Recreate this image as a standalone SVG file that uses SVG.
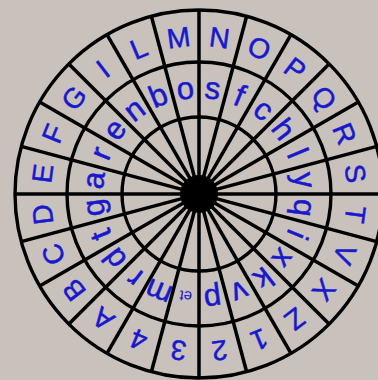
<svg xmlns="http://www.w3.org/2000/svg" width="378" height="380" viewBox="0 0 378 380">
<style>
.bg{fill:#c9c1bc}
.ring{fill:none;stroke:#000;stroke-width:3.4}
.spoke{stroke:#000;stroke-width:3.5}
.cap{font-family:"Liberation Sans",Arial,sans-serif;font-size:28px;fill:#1818cc;text-anchor:middle;stroke:#1818cc;stroke-width:0.5}
.low{font-family:"Liberation Sans",Arial,sans-serif;font-size:31px;fill:#1818cc;text-anchor:middle;stroke:#1818cc;stroke-width:0.5}
.sm{font-family:"Liberation Sans",Arial,sans-serif;font-size:15px;fill:#1818cc;text-anchor:middle}
</style>
<rect class="bg" x="0" y="0" width="378" height="380"/>
<g id="disk" transform="translate(199,194)">
<g id="connectors">
<line class="spoke" x1="0" y1="-184" x2="0" y2="184"/>
<line class="spoke" x1="0" y1="-184" x2="0" y2="184" transform="rotate(15)"/>
<line class="spoke" x1="0" y1="-184" x2="0" y2="184" transform="rotate(30)"/>
<line class="spoke" x1="0" y1="-184" x2="0" y2="184" transform="rotate(45)"/>
<line class="spoke" x1="0" y1="-184" x2="0" y2="184" transform="rotate(60)"/>
<line class="spoke" x1="0" y1="-184" x2="0" y2="184" transform="rotate(75)"/>
<line class="spoke" x1="0" y1="-184" x2="0" y2="184" transform="rotate(90)"/>
<line class="spoke" x1="0" y1="-184" x2="0" y2="184" transform="rotate(105)"/>
<line class="spoke" x1="0" y1="-184" x2="0" y2="184" transform="rotate(120)"/>
<line class="spoke" x1="0" y1="-184" x2="0" y2="184" transform="rotate(135)"/>
<line class="spoke" x1="0" y1="-184" x2="0" y2="184" transform="rotate(150)"/>
<line class="spoke" x1="0" y1="-184" x2="0" y2="184" transform="rotate(165)"/>
</g>
<circle class="ring" r="184"/>
<circle class="ring" r="132"/>
<circle class="ring" r="77"/>
<circle r="19" fill="#000"/>
<g id="outer">
<text class="cap" transform="rotate(7.5)" y="-148">N</text>
<text class="cap" transform="rotate(22.5)" y="-148">O</text>
<text class="cap" transform="rotate(37.5)" y="-148">P</text>
<text class="cap" transform="rotate(52.5)" y="-148">Q</text>
<text class="cap" transform="rotate(67.5)" y="-148">R</text>
<text class="cap" transform="rotate(82.5)" y="-148">S</text>
<text class="cap" transform="rotate(97.5)" y="-148">T</text>
<text class="cap" transform="rotate(112.5)" y="-148">V</text>
<text class="cap" transform="rotate(127.5)" y="-148">X</text>
<text class="cap" transform="rotate(142.5)" y="-148">Z</text>
<text class="cap" transform="rotate(157.5)" y="-148">1</text>
<text class="cap" transform="rotate(172.5)" y="-148">2</text>
<text class="cap" transform="rotate(187.5)" y="-148">3</text>
<text class="cap" transform="rotate(202.5)" y="-148">4</text>
<text class="cap" transform="rotate(217.5)" y="-148">A</text>
<text class="cap" transform="rotate(232.5)" y="-148">B</text>
<text class="cap" transform="rotate(247.5)" y="-148">C</text>
<text class="cap" transform="rotate(262.5)" y="-148">D</text>
<text class="cap" transform="rotate(277.5)" y="-148">E</text>
<text class="cap" transform="rotate(292.5)" y="-148">F</text>
<text class="cap" transform="rotate(307.5)" y="-148">G</text>
<text class="cap" transform="rotate(322.5)" y="-148">I</text>
<text class="cap" transform="rotate(337.5)" y="-148">L</text>
<text class="cap" transform="rotate(352.5)" y="-148">M</text>
</g>
<g id="inner">
<text class="low" transform="rotate(7.5)" y="-96">s</text>
<text class="low" transform="rotate(22.5)" y="-96">f</text>
<text class="low" transform="rotate(37.5)" y="-96">c</text>
<text class="low" transform="rotate(52.5)" y="-96">h</text>
<text class="low" transform="rotate(67.5)" y="-96">l</text>
<text class="low" transform="rotate(82.5)" y="-96">y</text>
<text class="low" transform="rotate(97.5)" y="-96">q</text>
<text class="low" transform="rotate(112.5)" y="-96">i</text>
<text class="low" transform="rotate(127.5)" y="-96">x</text>
<text class="low" transform="rotate(142.5)" y="-96">k</text>
<text class="low" transform="rotate(157.5)" y="-96">v</text>
<text class="low" transform="rotate(172.5)" y="-96">p</text>
<text class="sm" transform="rotate(187.5)" y="-98">et</text>
<text class="low" transform="rotate(202.5)" y="-96">m</text>
<text class="low" transform="rotate(217.5)" y="-96">r</text>
<text class="low" transform="rotate(232.5)" y="-96">d</text>
<text class="low" transform="rotate(247.5)" y="-96">t</text>
<text class="low" transform="rotate(262.5)" y="-96">g</text>
<text class="low" transform="rotate(277.5)" y="-96">a</text>
<text class="low" transform="rotate(292.5)" y="-96">r</text>
<text class="low" transform="rotate(307.5)" y="-96">e</text>
<text class="low" transform="rotate(322.5)" y="-96">n</text>
<text class="low" transform="rotate(337.5)" y="-96">b</text>
<text class="low" transform="rotate(352.5)" y="-96">o</text>
</g>
</g>
</svg>
